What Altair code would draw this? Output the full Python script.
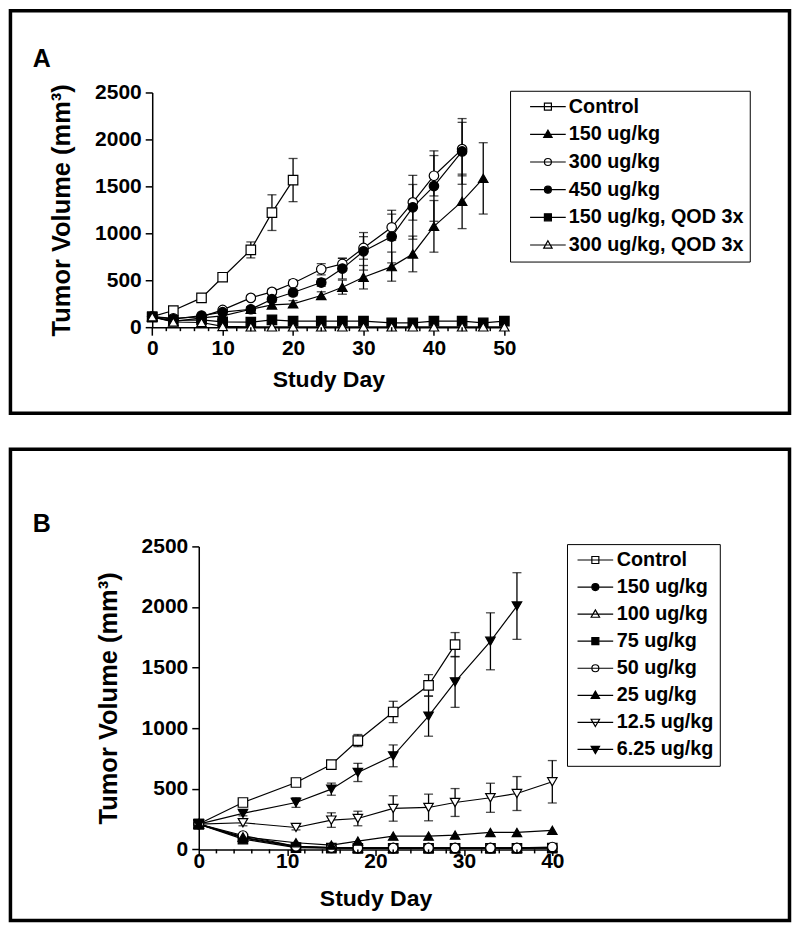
import altair as alt
import pandas as pd

FONT = "Liberation Sans"

# ---------------- Panel A data ----------------
A_SERIES = ["Control", "150 ug/kg", "300 ug/kg", "450 ug/kg", "150 ug/kg, QOD 3x", "300 ug/kg, QOD 3x"]
A_SHAPES = ["square", "triangle-up", "circle", "circle", "square", "triangle-up"]
A_FILLS = ["white", "black", "white", "black", "black", "white"]

A_DAYS_CTRL = [0, 3, 7, 10, 14, 17, 20]
A_CTRL = [113, 177, 312, 532, 823, 1220, 1567]
A_CTRL_ERR = [15, 20, 25, 35, 85, 190, 230]

A_DAYS_150 = [0, 3, 7, 10, 14, 17, 20, 24, 27, 30, 34, 37, 40, 44, 47]
A_150 = [113, 60, 100, 120, 191, 237, 248, 337, 426, 532, 645, 780, 1074, 1340, 1585]
A_150_ERR = [20, 10, 15, 20, 25, 30, 35, 40, 75, 125, 155, 190, 275, 290, 380]

A_DAYS_300 = [0, 3, 7, 10, 14, 17, 20, 24, 27, 30, 34, 37, 40, 44]
A_300 = [113, 95, 110, 184, 312, 376, 468, 617, 674, 844, 1064, 1330, 1613, 1897]
A_300_ERR = [15, 15, 15, 20, 25, 30, 35, 60, 60, 120, 140, 190, 215, 285]

A_450 = [113, 85, 124, 160, 191, 298, 369, 475, 624, 808, 965, 1277, 1503, 1872]
A_450_ERR = [15, 15, 15, 20, 25, 30, 35, 40, 110, 200, 280, 340, 375, 350]

A_DAYS_QOD = [0, 3, 7, 10, 14, 17, 20, 24, 27, 30, 34, 37, 40, 44, 47, 50]
A_150QOD = [106, 71, 78, 57, 53, 78, 64, 64, 64, 64, 46, 46, 64, 64, 46, 64]
A_300QOD = [110, 55, 50, 8, 3, 3, 3, 3, 3, 3, 3, 3, 3, 3, 3, 3]

A_XTICKS = [0, 10, 20, 30, 40, 50]
A_XMINOR = [d for d in range(0, 51, 2) if d % 10]

# ---------------- Panel B data ----------------
B_SERIES = ["Control", "150 ug/kg", "100 ug/kg", "75 ug/kg", "50 ug/kg", "25 ug/kg", "12.5 ug/kg", "6.25 ug/kg"]
B_SHAPES = ["square", "circle", "triangle-up", "square", "circle", "triangle-up", "triangle-down", "triangle-down"]
B_FILLS = ["white", "black", "white", "black", "white", "black", "white", "black"]

B_DAYS = [0, 5, 11, 15, 18, 22, 26, 29, 33, 36, 40]
B_DAYS_CTRL = [0, 5, 11, 15, 18, 22, 26, 29]
B_CTRL = [209, 387, 552, 700, 898, 1134, 1354, 1689]
B_CTRL_ERR = [15, 25, 20, 20, 50, 88, 88, 100]
B_150 = [209, 95, 20, 12, 10, 10, 10, 10, 10, 10, 12]
B_100 = [209, 100, 25, 15, 12, 12, 12, 12, 12, 12, 15]
B_75 = [209, 85, 15, 10, 8, 8, 8, 8, 8, 8, 10]
B_50 = [209, 115, 25, 15, 12, 12, 12, 12, 12, 12, 20]
B_25 = [209, 104, 55, 36, 69, 110, 110, 118, 140, 140, 157]
B_12 = [209, 220, 181, 242, 255, 338, 346, 387, 426, 461, 558]
B_12_ERR = [10, 25, 20, 60, 60, 105, 110, 115, 120, 140, 175]
B_DAYS_6 = [0, 5, 11, 15, 18, 22, 26, 29, 33, 36]
B_6 = [209, 297, 387, 497, 635, 772, 1099, 1382, 1717, 2008]
B_6_ERR = [10, 20, 40, 50, 75, 90, 165, 210, 235, 275]

B_XTICKS = [0, 10, 20, 30, 40]
B_XMINOR = [d for d in range(0, 41, 2) if d % 10]

Y_TICKS = list(range(0, 2501, 250))


def series_frame(name, days, vals, errs=None):
    if errs is None:
        errs = [0] * len(vals)
    return pd.DataFrame({"series": name, "day": days, "value": vals, "err": errs})


dfA = pd.concat([
    series_frame(A_SERIES[0], A_DAYS_CTRL, A_CTRL, A_CTRL_ERR),
    series_frame(A_SERIES[1], A_DAYS_150, A_150, A_150_ERR),
    series_frame(A_SERIES[2], A_DAYS_300, A_300, A_300_ERR),
    series_frame(A_SERIES[3], A_DAYS_300, A_450, A_450_ERR),
    series_frame(A_SERIES[4], A_DAYS_QOD, A_150QOD),
    series_frame(A_SERIES[5], A_DAYS_QOD, A_300QOD),
], ignore_index=True)

dfB = pd.concat([
    series_frame(B_SERIES[0], B_DAYS_CTRL, B_CTRL, B_CTRL_ERR),
    series_frame(B_SERIES[1], B_DAYS, B_150),
    series_frame(B_SERIES[2], B_DAYS, B_100),
    series_frame(B_SERIES[3], B_DAYS, B_75),
    series_frame(B_SERIES[4], B_DAYS, B_50),
    series_frame(B_SERIES[5], B_DAYS, B_25),
    series_frame(B_SERIES[6], B_DAYS, B_12, B_12_ERR),
    series_frame(B_SERIES[7], B_DAYS_6, B_6, B_6_ERR),
], ignore_index=True)

# legend symbols: a horizontal line through the marker
LINE = "M-5.1,0H5.1"
PATHS = {
    "square": LINE + "M-1,-1H1V1H-1Z",
    "circle": LINE + "M-1,0A1,1,0,1,0,1,0A1,1,0,1,0,-1,0Z",
    "triangle-up": LINE + "M0,-1.2L1.2,0.9H-1.2Z",
    "triangle-down": LINE + "M0,1.2L1.2,-0.9H-1.2Z",
}


def panel(df, series, shapes, fills, xmax, xticks, xminor, xrange_, w, h, yoffset,
          letter, frame, letter_pos, legend_pos, sym_offset, lab_offset, row_pad,
          xtick, lab_pad, title_pad):
    xax = alt.Axis(
        values=xticks, labelOverlap=False, labelFlush=False,
        tickSize=xtick, labelPadding=lab_pad, title="Study Day", titlePadding=title_pad, format="d",
    )
    yax = alt.Axis(
        values=Y_TICKS,
        labelExpr="datum.value % 500 == 0 ? datum.label : ''",
        labelOverlap=False, offset=yoffset,
        tickSize=7, labelPadding=4, title="Tumor Volume (mm³)", titlePadding=20, format="d",
    )
    X = alt.X("day:Q", scale=alt.Scale(domain=[0, xmax], range=xrange_, nice=False), axis=xax)
    Y = alt.Y("value:Q", scale=alt.Scale(domain=[0, 2500], nice=False), axis=yax)
    Xp = alt.X("day:Q")

    base = alt.Chart(df)
    lines = base.mark_line(color="black", strokeWidth=1.2).encode(
        x=X, y=Y, detail="series:N", order="day:Q")
    errs = base.transform_filter("datum.err > 0").transform_calculate(
        lo="datum.value - datum.err", hi="datum.value + datum.err")
    rules = errs.mark_rule(color="black", strokeWidth=1.3).encode(
        x=Xp, y="lo:Q", y2="hi:Q")
    cap_lo = errs.mark_tick(color="black", orient="horizontal", size=9, thickness=1.3).encode(
        x=Xp, y="lo:Q")
    cap_hi = errs.mark_tick(color="black", orient="horizontal", size=9, thickness=1.3).encode(
        x=Xp, y="hi:Q")
    points = base.mark_point(filled=True, size=90, stroke="black", strokeWidth=1.2, opacity=1).encode(
        x=Xp, y="value:Q",
        shape=alt.Shape("series:N", scale=alt.Scale(domain=series, range=shapes), legend=None),
        fill=alt.Fill("series:N", scale=alt.Scale(domain=series, range=fills), legend=None),
    )
    leg = alt.Legend(
        title=None, orient="none", legendX=legend_pos[0], legendY=legend_pos[1],
        strokeColor="black", fillColor="white", padding=6, rowPadding=row_pad,
        symbolOffset=sym_offset, labelOffset=lab_offset, symbolSize=49,
        symbolStrokeWidth=1.2, symbolStrokeColor="black",
        labelFont=FONT, labelFontSize=19.8, labelFontWeight="bold", labelColor="black",
        labelLimit=400,
    )
    legend_layer = base.transform_filter("false").mark_point(
        filled=True, size=49, stroke="black", strokeWidth=1.2, opacity=1).encode(
        x=Xp, y="value:Q",
        shape=alt.Shape("series:N", scale=alt.Scale(domain=series, range=[PATHS[s] for s in shapes]), legend=leg),
        fill=alt.Fill("series:N", scale=alt.Scale(domain=series, range=fills), legend=leg),
        stroke=alt.Stroke("series:N", scale=alt.Scale(domain=series, range=["black"] * len(series)), legend=leg),
    )
    minor = alt.Chart(pd.DataFrame({"day": xminor})).mark_rule(color="black", strokeWidth=1.5).encode(
        x=Xp, y=alt.value(h), y2=alt.value(h + 4))
    one = alt.Chart(pd.DataFrame({"k": [0]}))
    box = one.mark_rect(fill="transparent", stroke="black", strokeWidth=3.5).encode(
        x=alt.value(frame[0]), x2=alt.value(frame[1]), y=alt.value(frame[2]), y2=alt.value(frame[3]))
    label = one.mark_text(font=FONT, fontSize=25, fontWeight="bold", color="black",
                          align="center", baseline="middle").encode(
        x=alt.value(letter_pos[0]), y=alt.value(letter_pos[1]), text=alt.value(letter))
    return alt.layer(box, rules, cap_lo, cap_hi, lines, points, minor, legend_layer, label).resolve_scale(
        shape="independent", fill="independent", stroke="independent").properties(width=w, height=h)


# Both panels share the same group origin (panel B's plot corner); panel A's
# axes are shifted 46.6 px to the left of it.
SHIFT = 46.6
pA = panel(dfA, A_SERIES, A_SHAPES, A_FILLS, 50, A_XTICKS, A_XMINOR, [-SHIFT, 306.0], 306, 235, SHIFT,
           "A", frame=(-188.55, 591.5, -81.95, 321.3), letter_pos=(-157.3, -33.7),
           legend_pos=(311.7, -1.7), sym_offset=22, lab_offset=11, row_pad=6.7,
           xtick=8, lab_pad=2, title_pad=10)
pB = panel(dfB, B_SERIES, B_SHAPES, B_FILLS, 40, B_XTICKS, B_XMINOR, [0, 354.0], 354, 303.4, 0,
           "B", frame=(-188.55, 591.5, -97.3, 374.7), letter_pos=(-157.3, -22.3),
           legend_pos=(368.7, -2.3), sym_offset=12.5, lab_offset=11.5, row_pad=6.1,
           xtick=6, lab_pad=-5, title_pad=16)

chart = alt.vconcat(pA, pB, spacing=30.5).properties(padding=0).configure_view(
    stroke=None
).configure_axis(
    domainColor="black", domainWidth=1.5, tickColor="black", tickWidth=1.5,
    labelFont=FONT, labelFontSize=21, labelFontWeight="bold", labelColor="black",
    titleFont=FONT, titleFontWeight="bold", titleColor="black",
    grid=False,
).configure_axisX(titleFontSize=23).configure_axisY(titleFontSize=25.5)

chart.save("out.html", embed_options={"renderer": "svg", "actions": False})
